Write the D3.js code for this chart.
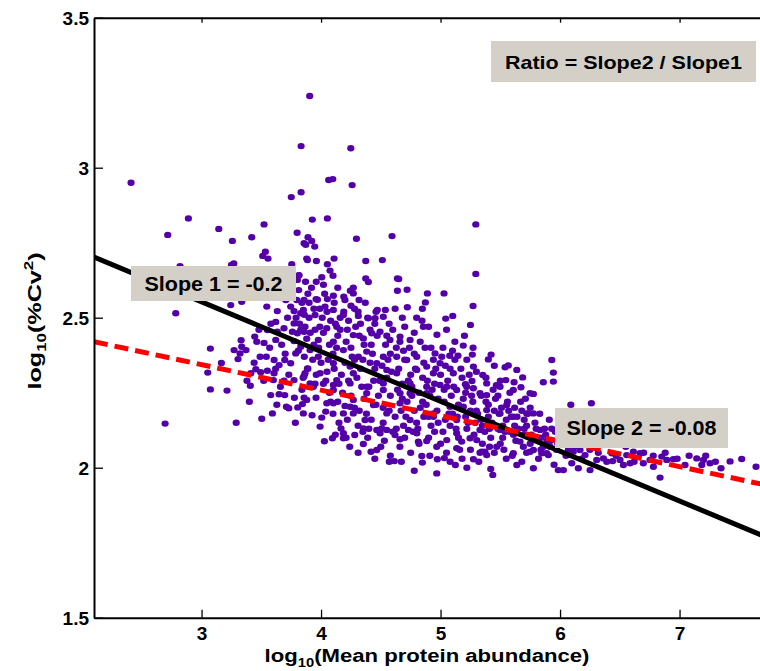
<!DOCTYPE html>
<html>
<head>
<meta charset="utf-8">
<script src="https://cdnjs.cloudflare.com/ajax/libs/d3/7.8.5/d3.min.js"></script>
<style>
  body { margin: 0; background: #fff; }
  svg { display: block; font-family: "Liberation Sans", Arial, sans-serif; }
</style>
</head>
<body>
<svg width="760" height="671"></svg>
<script>
// Axis ticks
const xTicks = [3, 4, 5, 6, 7];
const yTicks = [1.5, 2, 2.5, 3, 3.5];

// Fitted lines: [intercept, slope] in log10 units
const fit1 = [3.051, -0.166];
const fit2 = [2.5985, -0.085];

// Annotations
const notes = [
  { text: "Ratio = Slope2 / Slope1", x: 491, y: 41, w: 265, h: 41, len: 237, size: 19 },
  { text: "Slope 1 = -0.2", x: 131, y: 266, w: 165, h: 35, len: 138, size: 20 },
  { text: "Slope 2 = -0.08", x: 555, y: 408, w: 173, h: 40, len: 150, size: 20 }
];

// Proteins: [log10 mean abundance, log10 %Cv^2]
const points = [
  [2.41,2.95],[3.905,3.239],[3.833,3.072],[4.249,3.065],[4.064,2.959],[4.098,2.962],[4.26,2.942],[3.833,2.918],[3.751,2.902],
  [2.89,2.831],[2.717,2.776],[3.144,2.796],[3.258,2.756],[3.42,2.768],[3.523,2.811],[3.927,2.827],[4.053,2.831],[3.8,2.783],
  [3.891,2.768],[3.858,2.748],[3.872,2.743],[3.947,2.737],[4.296,2.763],[4.594,2.772],[3.512,2.706],[3.534,2.72],[3.556,2.697],
  [3.27,2.681],[3.88,2.697],[3.961,2.689],[4.053,2.678],[4.109,2.697],[4.075,2.657],[4.374,2.689],[4.513,2.692],[3.755,2.678],
  [4.006,2.635],[3.813,2.641],[4.374,2.631],[4.639,2.631],[5.295,2.811],[5.295,2.646],[4.396,2.619],[4.65,2.629],[4.639,2.59],
  [4.72,2.593],[4.89,2.581],[5.029,2.581],[4.245,2.59],[4.27,2.581],[3.958,2.562],[4.053,2.562],[4.103,2.573],[4.318,2.559],
  [4.2,2.559],[5.272,2.539],[4.873,2.551],[4.848,2.53],[4.722,2.535],[4.471,2.526],[4.538,2.526],[5.043,2.497],[5.102,2.506],
  [5.25,2.476],[4.9,2.47],[4.856,2.47],[4.845,2.49],[4.97,2.443],[5.19,2.407],[5.272,2.4],[5.266,2.377],[5.146,2.373],
  [5.077,2.373],[5.423,2.377],[5.4,2.361],[5.567,2.341],[5.54,2.335],[5.638,2.326],[5.931,2.359],[5.944,2.317],[5.86,2.285],
  [5.687,2.301],[5.615,2.285],[5.673,2.268],[5.777,2.246],[5.467,2.275],[5.546,2.292],[5.353,2.309],[5.263,2.289],[5.208,2.278],
  [3.922,2.756],[2.82,2.672],[2.784,2.515],[2.695,2.147],[3.29,2.15],[3.504,2.163],[3.593,2.181],[3.785,2.15],[3.925,2.175],
  [3.074,2.261],[3.213,2.257],[3.408,2.273],[3.579,2.242],[3.649,2.245],[3.696,2.242],[3.777,2.233],[3.71,2.203],[3.73,2.198],
  [3.805,2.201],[3.844,2.212],[3.858,2.233],[3.074,2.397],[3.166,2.349],[3.052,2.317],[3.272,2.392],[3.322,2.381],[3.372,2.392],
  [3.305,2.362],[3.331,2.425],[3.445,2.437],[3.462,2.42],[3.523,2.416],[3.551,2.459],[3.621,2.426],[3.634,2.453],[3.49,2.37],
  [3.542,2.37],[3.607,2.359],[3.649,2.342],[3.696,2.359],[3.746,2.348],[3.788,2.381],[3.83,2.403],[3.774,2.422],[3.454,2.328],
  [3.495,2.318],[3.551,2.323],[3.607,2.315],[3.412,2.315],[3.601,2.292],[3.69,2.29],[3.774,2.292],[3.858,2.306],[3.886,2.331],
  [3.634,2.522],[3.621,2.486],[3.69,2.465],[3.76,2.453],[3.802,2.448],[3.858,2.453],[3.774,2.522],[3.83,2.515],[3.791,2.5],
  [3.774,2.481],[3.705,2.559],[3.746,2.537],[3.797,2.559],[3.813,2.592],[3.802,2.626],[3.816,2.642],[3.244,2.542],[3.336,2.553],
  [3.546,2.537],[3.25,2.676],[3.649,2.592],[3.886,2.692],[3.858,2.559],[3.336,2.403],
  [6.09,2.21],[6.262,2.215],[7.52,2.029],[7.423,2.021],[7.64,2.003],[7.219,2.04],[7.144,2.031],[7.186,2.009],[7.255,2.015],
  [7.2,2.026],[7.347,1.998],[7.046,2.009],[6.948,2.028],[6.893,2.026],[6.851,2.037],[6.753,2.026],[6.781,2.003],[6.837,1.967],
  [6.67,2.048],[6.614,2.053],[6.558,2.042],[6.502,2.026],[6.433,2.048],[6.391,2.02],[6.307,2.026],[6.251,1.992],[6.153,1.998],
  [6.098,2.015],[6.028,1.992],[5.985,1.992],[5.888,2.048],[5.916,2.07],[6.53,2.009],[6.586,2.015],[6.697,2.015],[6.44,2.022],
  [6.363,2.031],[6.209,2.042],[6.111,2.053],[6.167,2.059],
  [4.968,1.981],[5.42,1.996],[5.437,1.976],[4.571,2.02],[4.613,2.022],[4.672,2.02],[4.418,2.053],[4.466,2.059],[4.843,2.039],
  [4.848,2.017],[4.973,2.028],[5.032,2.032],[5.124,2.009],[5.275,2.028],[5.372,2.053],[5.386,2.042],[4.028,2.088],[4.095,2.098],
  [4.187,2.098],[4.167,2.131],[4.282,2.109],[4.354,2.079],[4.006,2.167],[4.039,2.187],[4.103,2.215],[4.2,2.206],[4.27,2.181],
  [3.958,2.233],[4.368,2.159],[4.354,2.131],[4.494,2.115],[4.508,2.131],[4.55,2.126],[4.619,2.109],[4.661,2.095],[4.731,2.126],
  [4.814,2.087],[4.884,2.089],[4.968,2.07],[5.052,2.092],[5.135,2.065],[5.177,2.087],[5.247,2.098],[5.303,2.092],[5.345,2.053],
  [5.47,2.07],[5.609,2.048],[5.693,2.07],[5.777,2.059],[5.847,2.048],[5.902,2.042],[5.638,2.009],[5.777,1.998],[5.665,2.087],
  [5.749,2.053],[3.908,2.281],[4.103,2.276],[4.243,2.281],[4.382,2.27],[4.521,2.259],[4.745,2.248],[4.884,2.27],[4.996,2.276],
  [5.135,2.259],[5.275,2.265],[5.386,2.242],[5.498,2.27],[5.609,2.259],[5.749,2.248],[5.944,2.287],[5.191,2.203],[5.386,2.192],
  [5.554,2.209],[5.777,2.181],[4.94,2.181],[5.079,2.203],[4.661,2.215],[4.438,2.209],[4.27,2.226],[4.187,2.181],
  [3.852,2.526],[4.033,2.537],[4.103,2.526],[3.866,2.47],[3.95,2.509],[4.048,2.465],[4.131,2.47],[4.187,2.509],[4.312,2.506],
  [4.396,2.498],[4.452,2.498],[4.521,2.503],[4.424,2.448],[4.494,2.453],[4.577,2.426],[4.661,2.437],[4.745,2.426],[4.27,2.442],
  [4.354,2.431],[3.977,2.426],[4.103,2.42],[4.187,2.392],[3.908,2.392],[3.977,2.37],[4.312,2.37],[4.382,2.387],[4.521,2.37],
  [4.633,2.37],[4.717,2.359],[4.801,2.37],[4.954,2.381],[4.884,2.337],[4.801,2.326],[4.633,2.315],[4.55,2.326],[4.466,2.348],
  [4.243,2.337],[4.103,2.348],[3.992,2.315],[3.866,2.315],[4.131,2.292],[4.27,2.315],[4.521,2.281],[4.745,2.281],[4.94,2.315],
  [4.996,2.348],[5.107,2.315],[5.052,2.27],[5.275,2.337],[5.386,2.281],[5.33,2.248],[5.219,2.27],[4.884,2.248],[4.661,2.248],
  [4.382,2.248],[4.103,2.259],[3.936,2.27],[3.88,2.226],[4.048,2.215],[4.243,2.203],[4.55,2.181],[4.745,2.159],[4.94,2.17],
  [5.135,2.159],[5.33,2.126],[5.498,2.181],[5.609,2.17],[5.721,2.181],[5.833,2.126],[5.498,2.126],[5.135,2.115],[4.801,2.115],
  [4.466,2.126],[4.187,2.115],[3.992,2.137],[3.852,2.181],
  [5.52,2.10],[5.58,2.12],[5.63,2.09],[5.70,2.11],[5.75,2.08],[5.80,2.10],[5.86,2.07],[5.92,2.09],[5.97,2.06],[6.02,2.08],
  [5.55,2.03],[5.68,2.02],[5.82,2.03],[5.95,2.01],[6.05,2.04],[6.12,2.07],[6.18,2.03],[6.25,2.06],[6.32,2.05],[6.40,2.08],
  [6.47,2.04],[6.55,2.07],[6.62,2.02],[6.70,2.05],[6.78,2.04],[6.88,2.05],[6.98,2.03],[7.08,2.04],[7.30,2.02],
  [5.02,2.12],[5.08,2.14],[5.15,2.10],[5.22,2.13],[5.28,2.11],[5.35,2.14],[5.42,2.10],[5.48,2.13],[5.05,2.05],[5.18,2.03],
  [5.25,2.06],[5.32,2.02],[5.45,2.05],[5.10,2.18],[5.25,2.19],[5.40,2.17],[5.55,2.16],[5.62,2.14],[5.70,2.16],[5.35,2.08],
  [5.50,2.08],[4.52,2.20],[4.58,2.24],[4.62,2.17],[4.68,2.28],[4.72,2.22],[4.78,2.19],[4.82,2.25],[4.88,2.21],[4.92,2.14],
  [4.98,2.23],[4.55,2.30],[4.65,2.33],[4.75,2.31],[4.85,2.30],[4.95,2.28],[4.60,2.12],[4.70,2.10],[4.80,2.15],[4.90,2.10],
  [4.50,2.07],[4.05,2.32],[4.10,2.38],[4.15,2.28],[4.20,2.35],[4.25,2.40],[4.30,2.30],[4.35,2.36],[4.40,2.27],[4.45,2.33],
  [4.02,2.45],[4.12,2.48],[4.22,2.46],[4.32,2.44],[4.42,2.41],[4.08,2.22],[4.18,2.25],[4.28,2.20],[4.38,2.18],[4.48,2.24],
  [4.15,2.15],[4.35,2.12],[4.05,2.52],[4.25,2.54],[4.45,2.48],[3.82,2.48],[3.88,2.43],[3.93,2.36],[3.98,2.40],[3.85,2.30],
  [3.95,2.28],[3.90,2.50],[3.97,2.56],[3.84,2.55],[3.92,2.60],[3.87,2.62],[3.99,2.47],[5.02,2.40],[5.08,2.33],[5.12,2.42],
  [5.18,2.30],[5.22,2.36],[5.30,2.32],[5.38,2.30],[5.45,2.34],[5.50,2.29],[5.05,2.46],[5.20,2.44],
  [4.04,2.29],[4.07,2.41],[4.11,2.33],[4.14,2.44],[4.17,2.31],[4.19,2.52],[4.23,2.29],[4.26,2.37],[4.29,2.47],[4.33,2.33],
  [4.36,2.41],[4.39,2.50],[4.41,2.35],[4.44,2.29],[4.47,2.44],[4.51,2.34],[4.54,2.41],[4.57,2.48],[4.59,2.32],[4.63,2.40],
  [4.06,2.36],[4.13,2.40],[4.21,2.42],[4.28,2.36],[4.34,2.27],[4.43,2.38],[4.49,2.29],[4.56,2.36],[4.16,2.50],[4.31,2.52],
  [4.64,2.26],[4.67,2.19],[4.70,2.36],[4.73,2.29],[4.76,2.24],[4.79,2.33],[4.83,2.20],[4.86,2.35],[4.89,2.29],[4.91,2.24],
  [4.94,2.36],[4.97,2.19],[5.00,2.31],[5.03,2.22],[5.06,2.29],[5.09,2.24],[5.12,2.36],[5.15,2.21],[5.17,2.33],[5.21,2.25],
  [5.24,2.31],[5.27,2.22],[4.69,2.14],[4.77,2.12],[4.86,2.17],[4.95,2.12],[5.04,2.16],[5.13,2.13],[5.21,2.17],[5.29,2.15],
  [4.74,2.40],[4.83,2.42],[4.92,2.40],[5.01,2.37],[5.10,2.39],
  [5.31,2.18],[5.34,2.24],[5.37,2.12],[5.40,2.21],[5.43,2.15],[5.46,2.23],[5.49,2.18],[5.52,2.14],[5.56,2.22],[5.59,2.17],
  [5.62,2.20],[5.65,2.13],[5.68,2.19],[5.72,2.14],[5.75,2.20],[5.79,2.15],[5.83,2.18],[5.87,2.13],[5.91,2.16],[5.96,2.12],
  [5.33,2.05],[5.41,2.07],[5.53,2.06],[5.60,2.04],[5.72,2.05],[5.84,2.06],[5.89,2.09],[5.99,2.10],[5.44,2.26],[5.58,2.25],
  [5.71,2.23],
  [3.81,2.39],[3.83,2.46],[3.86,2.37],[3.89,2.33],[3.91,2.45],[3.94,2.41],[3.96,2.31],[4.00,2.35],[4.01,2.50],[3.84,2.26],
  [3.89,2.58],[3.94,2.53],[4.02,2.28],[4.07,2.25],
  [4.24,2.07],[4.31,2.05],[4.39,2.10],[4.45,2.03],[4.53,2.09],[4.58,2.04],[4.66,2.07],[4.75,2.05],[4.82,2.08],[4.91,2.04],
  [5.00,2.08],[5.08,2.02],[5.16,2.06],[4.78,1.99],[5.22,2.00],
  [3.38,2.29],[3.44,2.35],[3.52,2.29],[3.57,2.40],[3.62,2.33],[3.66,2.27],[3.70,2.38],[3.73,2.31],[3.67,2.41],[3.58,2.48],
  [3.72,2.50],[3.48,2.46],[3.40,2.22],[3.63,2.21],
  [4.52,2.15],[4.57,2.19],[4.63,2.13],[4.68,2.23],[4.71,2.17],[4.76,2.27],[4.81,2.13],[4.85,2.22],[4.90,2.17],[4.93,2.26],
  [4.98,2.15],[5.03,2.26],[5.07,2.18],[5.11,2.27],[5.14,2.17],[5.19,2.23],[5.23,2.15],[5.26,2.24],[5.30,2.19],[5.34,2.16],
  [5.38,2.22],[5.41,2.13],[5.45,2.19],[5.48,2.24],[5.51,2.20],[5.54,2.12],[5.57,2.19],[5.61,2.11],[5.64,2.17],[5.67,2.22],
  [5.70,2.13],[5.73,2.18],[5.76,2.11],[5.80,2.13],[5.84,2.10],[5.88,2.11],[5.93,2.13],[5.98,2.08],[6.03,2.11],[6.07,2.06],
  [3.86,2.51],[3.90,2.55],[3.95,2.46],[3.99,2.53],[4.03,2.58],[4.08,2.49],[4.11,2.55],[4.16,2.46],[4.19,2.57],[4.23,2.49],
  [4.28,2.53],[4.33,2.48],[4.37,2.55],[4.41,2.46],[4.46,2.52],[4.02,2.61],[4.14,2.60],[4.27,2.60],[3.96,2.62],[4.10,2.64],
  [4.55,2.44],[4.60,2.46],[4.66,2.42],[4.70,2.47],[4.78,2.45],[4.62,2.53],[4.68,2.50],[4.80,2.50],[4.58,2.38],[4.69,2.39],
  [4.78,2.38],[4.87,2.40],[4.96,2.33],[5.04,2.34],
  [4.10,2.18],[4.14,2.22],[4.22,2.16],[4.25,2.24],[4.32,2.19],[4.36,2.23],[4.42,2.16],[4.46,2.21],[4.40,2.13],[4.31,2.14],
  [4.21,2.10],[4.12,2.11]
];

const svg = d3.select("svg");
const W = +svg.attr("width");

// Plot box (right side of the axes runs past the window edge)
const plotLeft = 94, plotTop = 17.7, plotBottom = 617.7;
const x = d3.scaleLinear().domain([2.1, 7.7]).range([plotLeft, plotLeft + 5.6 * 119.5]);
const y = d3.scaleLinear().domain([1.5, 3.5]).range([plotBottom, plotTop]);

svg.append("defs").append("clipPath").attr("id", "plot")
  .append("rect").attr("x", plotLeft).attr("y", plotTop)
  .attr("width", W - plotLeft).attr("height", plotBottom - plotTop);

const plot = svg.append("g").attr("clip-path", "url(#plot)");

// Scatter
plot.selectAll("ellipse")
  .data(points)
  .enter()
  .append("ellipse")
  .attr("cx", d => x(d[0]))
  .attr("cy", d => y(d[1]))
  .attr("rx", 3.6)
  .attr("ry", 3.2)
  .attr("fill", "#5400a8");

// Fitted lines
const lineFor = f => d3.line()
  .x(v => x(v))
  .y(v => y(f[0] + f[1] * v))(x.domain());

plot.append("path")
  .attr("d", lineFor(fit1))
  .attr("stroke", "#000")
  .attr("stroke-width", 5)
  .attr("fill", "none");

plot.append("path")
  .attr("d", lineFor(fit2))
  .attr("stroke", "#ff0000")
  .attr("stroke-width", 5)
  .attr("stroke-dasharray", "14,7")
  .attr("fill", "none");

// Axes: MATLAB style box with inward ticks
const fontTick = g => g.selectAll("text")
  .attr("font-size", 19).attr("font-weight", "bold")
  .attr("font-family", "Liberation Sans, Arial, sans-serif").attr("fill", "#000");

const xAxis = svg.append("g")
  .attr("transform", `translate(0,${plotBottom})`)
  .call(d3.axisBottom(x).tickValues(xTicks).tickFormat(d3.format("d")).tickSizeInner(-8).tickSizeOuter(0).tickPadding(9));
xAxis.call(fontTick);

const xTop = svg.append("g")
  .attr("transform", `translate(0,${plotTop})`)
  .call(d3.axisTop(x).tickValues(xTicks).tickFormat("").tickSizeInner(-5).tickSizeOuter(0));

const yAxis = svg.append("g")
  .attr("transform", `translate(${plotLeft},0)`)
  .call(d3.axisLeft(y).tickValues(yTicks).tickFormat(d => d).tickSizeInner(-9).tickSizeOuter(0).tickPadding(5));
yAxis.call(fontTick);

[xAxis, xTop, yAxis].forEach(g => {
  g.select(".domain").attr("stroke", "#000").attr("stroke-width", 2);
  g.selectAll(".tick line").attr("stroke", "#000").attr("stroke-width", 1.3);
});
xAxis.selectAll("text").attr("dy", "0.71em");
yAxis.selectAll("text").attr("dy", "0.36em");

// Axis titles (the source figure is stretched along the text)
const xLabel = svg.append("g")
  .attr("transform", "translate(427,662) scale(1.23,1)")
  .append("text")
  .attr("text-anchor", "middle")
  .attr("font-size", 18).attr("font-weight", "bold");
xLabel.append("tspan").text("log");
xLabel.append("tspan").attr("font-size", 12).attr("dy", 5).text("10");
xLabel.append("tspan").attr("dy", -5).text("(Mean protein abundance)");

const yLabel = svg.append("g")
  .attr("transform", "translate(41,321) rotate(-90) scale(1.4,1)")
  .append("text")
  .attr("text-anchor", "middle")
  .attr("font-size", 18).attr("font-weight", "bold");
yLabel.append("tspan").text("log");
yLabel.append("tspan").attr("font-size", 12).attr("dy", 5).text("10");
yLabel.append("tspan").attr("dy", -5).text("(%Cv");
yLabel.append("tspan").attr("font-size", 12).attr("dy", -8).text("2");
yLabel.append("tspan").attr("dy", 8).text(")");

// Annotation boxes
const note = svg.selectAll(".note")
  .data(notes)
  .enter()
  .append("g")
  .attr("class", "note");

note.append("rect")
  .attr("x", d => d.x).attr("y", d => d.y)
  .attr("width", d => d.w).attr("height", d => d.h)
  .attr("fill", "#d4d0c8");

note.append("text")
  .attr("x", d => d.x + (d.w - d.len) / 2)
  .attr("y", d => d.y + d.h / 2 + 7)
  .attr("font-size", d => d.size).attr("font-weight", "bold")
  .attr("textLength", d => d.len)
  .attr("lengthAdjust", "spacingAndGlyphs")
  .text(d => d.text);
</script>
</body>
</html>
